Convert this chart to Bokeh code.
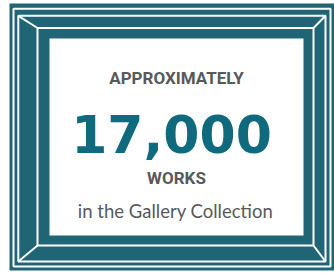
from bokeh.plotting import figure
from bokeh.models import Range1d
from bokeh.core.properties import value
from bokeh.embed import file_html
from bokeh.resources import INLINE

# ---- content ----
heading = "APPROXIMATELY"
number_text = "17,000"
unit_text = "WORKS"
caption = "in the Gallery Collection"

# ---- colours ----
FRAME = "#1f6576"
NUMBER = "#0e6a7c"
GRAY = "#58595b"

p = figure(width=334, height=274, x_range=Range1d(0, 334), y_range=Range1d(274, 0),
           output_backend="svg", toolbar_location=None, min_border=0)
p.axis.visible = False
p.grid.visible = False
p.outline_line_color = None
p.background_fill_color = "white"
p.border_fill_color = "white"

# outer teal frame
p.quad(left=[9], right=[334], top=[3], bottom=[270], fill_color=FRAME, line_color=None)
# white pin-stripes (nested outlines)
p.quad(left=[13, 17.8, 37], right=[330, 325, 313], top=[8.3, 15.3, 27.5],
       bottom=[266, 261, 245], fill_alpha=0, line_color="white", line_width=2)
# bevel corner diagonals
p.segment(x0=[17.8, 325, 17.8, 325], y0=[15.3, 15.3, 261, 261],
          x1=[37, 313, 37, 313], y1=[27.5, 27.5, 245, 245],
          line_color="white", line_width=2)
# interior panel
p.quad(left=[49], right=[303], top=[38], bottom=[235], fill_color="white", line_color=None)

p.text(x=[176], y=[77], text=[heading], text_font=value("Roboto"),
       text_font_style="bold", text_font_size="17px", text_color=GRAY,
       text_align="center", text_baseline="alphabetic")
p.text(x=[171], y=[133], text=[number_text], text_font=value("DejaVu Sans"),
       text_font_style="bold", text_font_size="52px", text_color=NUMBER,
       text_align="center", text_baseline="alphabetic")
p.text(x=[176], y=[177], text=[unit_text], text_font=value("Roboto"),
       text_font_style="bold", text_font_size="17px", text_color=GRAY,
       text_align="center", text_baseline="alphabetic")
p.text(x=[175], y=[210], text=[caption], text_font=value("Lato"),
       text_font_size="18.5px", text_color=GRAY,
       text_align="center", text_baseline="alphabetic")

open("out.html", "w").write(file_html(p, INLINE))
